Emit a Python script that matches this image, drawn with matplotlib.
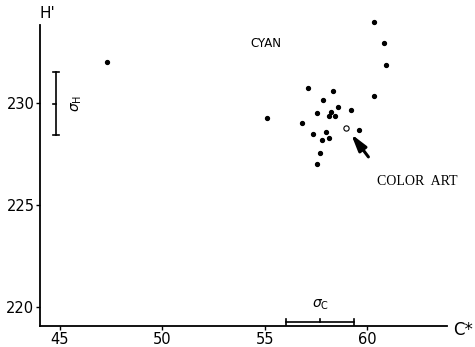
import matplotlib
matplotlib.use('Agg')
import matplotlib.pyplot as plt

# CIELAB chroma (C*) and hue angle (H') of cyan samples
chroma = [47.28, 60.31, 60.81, 60.91, 57.13, 58.35, 60.35, 57.83, 58.55, 59.23,
          57.54, 58.22, 58.11, 58.43, 55.13, 56.82, 59.61, 57.33, 57.98, 57.80,
          58.13, 57.69, 57.57]
hue = [232.02, 233.99, 232.93, 231.85, 230.72, 230.60, 230.36, 230.13, 229.80, 229.67,
       229.50, 229.54, 229.36, 229.38, 229.26, 229.00, 228.66, 228.50, 228.58, 228.20,
       228.27, 227.55, 227.01]
art_chroma = [58.96]
art_hue = [228.79]

# standard deviation bars
sd_h = [228.43, 231.52]
sd_h_x = 44.79
sd_c = [56.04, 59.36]
sd_c_y = 219.28

x_ticks = [45, 50, 55, 60]
y_ticks = [220, 225, 230]

fig = plt.figure(figsize=(4.75, 3.47), dpi=100)
ax = fig.add_axes([0.0842, 0.0605, 0.857, 0.9078])
ax.set_xlim(44.02, 63.9)
ax.set_ylim(219.07, 234.51)

for s in ['top', 'right']:
    ax.spines[s].set_visible(False)
ax.spines['left'].set_linewidth(1.3)
ax.spines['bottom'].set_linewidth(1.3)
ax.spines['left'].set_bounds(219.07, 233.8)

ax.set_xticks(x_ticks)
ax.set_yticks(y_ticks)
ax.tick_params(direction='out', length=3, width=1, labelsize=10.5, pad=1)

ax.plot(chroma, hue, 'o', color='black', markersize=2.8, clip_on=False)
ax.plot(art_chroma, art_hue, 'o', mfc='white', mec='black', markersize=3.8, mew=0.8)

# sigma H bar
ax.plot([sd_h_x, sd_h_x], sd_h, color='black', lw=1.2)
ax.plot([sd_h_x - 0.15, sd_h_x + 0.15], [sd_h[0], sd_h[0]], color='black', lw=1.2)
ax.plot([sd_h_x - 0.15, sd_h_x + 0.15], [sd_h[1], sd_h[1]], color='black', lw=1.2)
ax.plot([sd_h_x - 0.15, sd_h_x], [sum(sd_h) / 2] * 2, color='black', lw=1.2)
ax.text(45.8, sum(sd_h) / 2, r'$\sigma_{\rm H}$', rotation=90, ha='center', va='center', fontsize=10)

# sigma C bar
ax.plot(sd_c, [sd_c_y, sd_c_y], color='black', lw=1.2, clip_on=False)
ax.plot([sd_c[0], sd_c[0]], [sd_c_y - 0.15, sd_c_y + 0.15], color='black', lw=1.2)
ax.plot([sd_c[1], sd_c[1]], [sd_c_y - 0.15, sd_c_y + 0.15], color='black', lw=1.2)
ax.plot([sum(sd_c) / 2] * 2, [sd_c_y, sd_c_y + 0.15], color='black', lw=1.2)
ax.text(57.7, 220.1, r'$\sigma_{\rm C}$', ha='center', va='center', fontsize=10)

ax.text(55.06, 232.94, 'CYAN', ha='center', va='center', fontsize=8.5)
ax.text(62.44, 226.13, 'COLOR  ART', ha='center', va='center', fontsize=10,
        family='Liberation Serif')
ax.annotate('', xy=(59.13, 228.59), xytext=(60.14, 227.25),
            arrowprops=dict(arrowstyle='-|>,head_length=1.0,head_width=0.28',
                            color='black', lw=2.2))

fig.text(47 / 475, 1 - 14 / 347, "H'", ha='center', va='center', fontsize=11)
fig.text(463 / 475, 1 - 330 / 347, 'C*', ha='center', va='center', fontsize=12)

fig.savefig('out.png', dpi=100)
